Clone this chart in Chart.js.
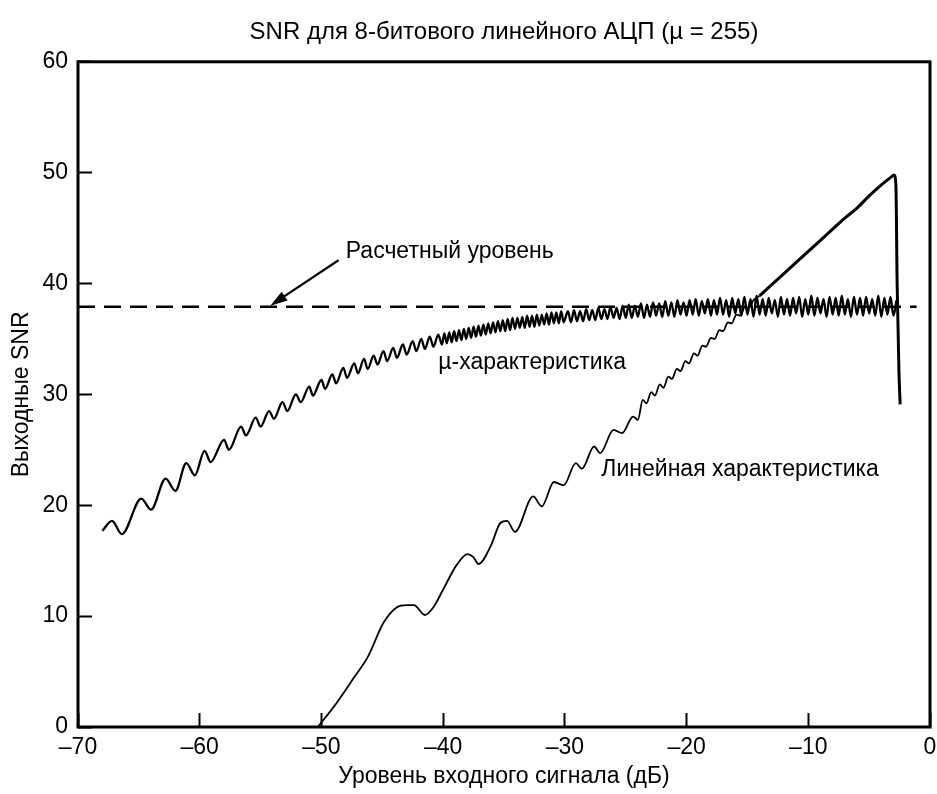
<!DOCTYPE html>
<html>
<head>
<meta charset="utf-8">
<title>SNR</title>
<script src="https://cdn.jsdelivr.net/npm/chart.js@4.4.1/dist/chart.umd.min.js"></script>
<style>
  body { margin: 0; background: #fff; }
  #wrap { width: 937px; height: 794px; }
</style>
</head>
<body>
<div id="wrap"><canvas id="snrChart" width="937" height="794"></canvas></div>
<script>
// оси
const xTicks = [-70, -60, -50, -40, -30, -20, -10, 0];
const yTicks = [0, 10, 20, 30, 40, 50, 60];

// расчетный уровень
const refX = [-70, -1.1];
const refY = [37.9, 37.9];

// mu-характеристика
const muX = [
  -68.0, -67.2, -66.4, -64.8, -64.0, -62.8, -62.0, -61.1, -60.4, -59.6, -59.1, -58.0, -57.6,
  -56.6, -56.2, -55.4, -55.0, -54.3, -53.9, -53.2, -52.8, -52.1, -51.7, -51.0, -50.7,
  -50.0, -49.7, -49.1, -48.8, -48.2, -47.9, -47.3, -47.0, -46.5, -46.2, -45.7, -45.4,
  -44.9, -44.6, -44.1, -43.8, -43.3, -43.0, -42.5, -42.2, -41.8, -41.5, -41.1, -40.8, -40.4, -40.1,
  -39.9, -39.7, -39.5, -39.3, -39.1, -38.9, -38.7, -38.5, -38.3, -38.1,
  -37.9, -37.7, -37.5, -37.3, -37.1, -36.9, -36.7, -36.5, -36.3, -36.1,
  -35.9, -35.7, -35.5, -35.3, -35.1, -34.9, -34.7, -34.5, -34.3, -34.1,
  -33.9, -33.7, -33.5, -33.3, -33.1, -32.9, -32.7, -32.5, -32.3, -32.1,
  -31.9, -31.7, -31.5, -31.3, -31.1, -30.9, -30.7, -30.5, -30.3, -30.1,
  -29.75, -29.5, -29.25, -29.0, -28.75, -28.5, -28.25, -28.0, -27.75, -27.5,
  -27.25, -27.0, -26.75, -26.5, -26.25, -26.0, -25.75, -25.5, -25.25, -25.0,
  -24.75, -24.5, -24.25, -24.0, -23.75, -23.5, -23.25, -23.0, -22.75, -22.5,
  -22.25, -22.0, -21.75, -21.5, -21.25, -21.0, -20.75, -20.5, -20.25, -20.0,
  -19.75, -19.5, -19.25, -19.0, -18.75, -18.5, -18.25, -18.0, -17.75, -17.5,
  -17.25, -17.0, -16.75, -16.5, -16.25, -16.0, -15.75, -15.5, -15.25, -15.0,
  -14.75, -14.5, -14.25, -14.0, -13.75, -13.5, -13.25, -13.0, -12.75, -12.5,
  -12.25, -12.0, -11.75, -11.5, -11.25, -11.0, -10.75, -10.5, -10.25, -10.0,
  -9.75, -9.5, -9.25, -9.0, -8.75, -8.5, -8.25, -8.0, -7.75, -7.5,
  -7.25, -7.0, -6.75, -6.5, -6.25, -6.0, -5.75, -5.5, -5.25, -5.0,
  -4.75, -4.5, -4.25, -4.0, -3.75, -3.5, -3.25, -3.0, -2.75
];
const muY = [
  17.7, 18.6, 17.4, 20.6, 19.6, 22.4, 21.3, 23.8, 22.7, 24.9, 23.9, 25.9, 25.0,
  27.1, 26.3, 27.9, 27.1, 28.5, 27.8, 29.3, 28.5, 30.0, 29.3, 30.7, 29.9,
  31.3, 30.5, 31.8, 31.0, 32.4, 31.5, 32.8, 31.9, 33.2, 32.3, 33.5, 32.7,
  33.9, 33.0, 34.2, 33.3, 34.5, 33.6, 34.8, 33.9, 35.0, 34.1, 35.2, 34.3, 35.4, 34.5,
  35.5, 34.6, 35.6, 34.7, 35.7, 34.8, 35.8, 34.9, 35.9, 35.0,
  36.0, 35.1, 36.1, 35.2, 36.2, 35.3, 36.3, 35.4, 36.4, 35.5,
  36.5, 35.6, 36.6, 35.7, 36.7, 35.7, 36.8, 35.8, 36.9, 35.9,
  36.9, 36.0, 37.0, 36.0, 37.1, 36.1, 37.1, 36.1, 37.2, 36.2,
  37.2, 36.3, 37.3, 36.3, 37.4, 36.4, 37.4, 36.4, 37.5, 36.5,
  37.5, 36.5, 37.6, 36.6, 37.5, 36.6, 37.7, 36.7, 37.6, 36.7,
  37.8, 36.8, 37.7, 36.8, 37.9, 36.9, 37.8, 36.8, 38.0, 36.9,
  38.1, 36.9, 38.0, 37.0, 38.2, 36.9, 38.1, 37.0, 38.3, 37.1,
  38.2, 37.0, 38.4, 37.1, 38.3, 37.0, 38.5, 37.2, 38.3, 37.1,
  38.5, 37.2, 38.6, 37.1, 38.4, 37.3, 38.6, 37.1, 38.5, 37.2,
  38.7, 37.2, 38.5, 37.0, 38.7, 37.3, 38.6, 37.1, 38.8, 37.2,
  38.6, 37.0, 38.9, 37.2, 38.6, 37.1, 38.7, 37.3, 38.5, 37.0,
  38.8, 37.2, 38.6, 37.1, 38.7, 37.3, 38.8, 37.0, 38.6, 37.2,
  38.9, 37.1, 38.7, 37.3, 38.6, 37.0, 38.8, 37.2, 38.7, 37.1,
  38.9, 37.2, 38.6, 37.0, 38.8, 37.2, 38.7, 37.1, 38.8, 37.3,
  38.6, 37.1, 38.9, 37.0, 38.7, 37.2, 38.8, 37.1, 38.5
];

// линейная характеристика
const linX = [
  -50.3, -49.0, -47.3, -46.2, -44.9, -43.8, -43.0, -42.4, -41.5, -40.8,
  -40.0, -38.9, -38.0, -37.5, -37.1, -36.1, -35.3, -34.75, -34.1, -32.6,
  -31.9, -30.9, -30.1, -29.1, -28.6, -27.6, -27.1, -26.0, -25.3, -24.4, -24.0,
  -23.6, -23.3, -22.9, -22.6, -22.2, -21.9, -21.5, -21.2, -20.8, -20.5,
  -20.1, -19.8, -19.4, -19.1, -18.7, -18.4, -18.0, -17.7, -17.3, -17.0,
  -16.6, -16.3, -15.9, -15.6, -15.2, -14.9, -14.5, -14.0,
  -13.0, -12.0, -11.0, -10.0, -9.0, -8.0, -7.0, -6.0, -5.0, -4.0,
  -3.2, -2.95, -2.8, -2.7, -2.55, -2.45
];
const linY = [
  0.0, 1.8, 4.5, 6.3, 9.4, 10.8, 11.0, 11.0, 10.1, 10.8,
  12.4, 14.6, 15.6, 15.3, 14.7, 16.3, 18.4, 18.6, 17.6, 20.8,
  19.9, 22.1, 21.8, 23.8, 23.3, 25.3, 24.7, 26.8, 26.5, 28.0, 27.7,
  29.5, 29.2, 30.2, 29.9, 30.9, 30.6, 31.6, 31.4, 32.3, 32.1,
  33.0, 32.8, 33.7, 33.5, 34.4, 34.3, 35.1, 35.0, 35.8, 35.7,
  36.5, 36.4, 37.2, 37.1, 37.9, 37.8, 38.5, 38.9,
  39.9, 40.9, 41.9, 42.9, 43.9, 44.9, 45.9, 46.8, 47.9, 48.9,
  49.6, 49.8, 48.8, 40.0, 32.0, 29.1
];

// подписи на графике
const notes = [
  { text: 'Расчетный уровень', x: -48.0, y: 42.9 },
  { text: 'µ-характеристика', x: -40.4, y: 32.9 },
  { text: 'Линейная характеристика', x: -27.0, y: 23.2 }
];
const arrow = { from: [-48.6, 42.1], to: [-54.2, 38.0] };

const FONT = "'Liberation Sans', Arial, sans-serif";
const pts = (xs, ys) => xs.map((x, i) => ({ x: x, y: ys[i] }));

const frameAndNotes = {
  id: 'frameAndNotes',
  afterDatasetsDraw(chart) {
    const { ctx, chartArea: a, scales: { x, y } } = chart;
    ctx.save();
    // подписи
    ctx.fillStyle = '#000';
    ctx.font = '23px ' + FONT;
    ctx.textAlign = 'left';
    ctx.textBaseline = 'middle';
    notes.forEach(n => ctx.fillText(n.text, x.getPixelForValue(n.x), y.getPixelForValue(n.y)));
    // стрелка
    const x1 = x.getPixelForValue(arrow.from[0]), y1 = y.getPixelForValue(arrow.from[1]);
    const x2 = x.getPixelForValue(arrow.to[0]), y2 = y.getPixelForValue(arrow.to[1]);
    const ang = Math.atan2(y2 - y1, x2 - x1);
    ctx.strokeStyle = '#000';
    ctx.lineWidth = 2.2;
    ctx.beginPath();
    ctx.moveTo(x1, y1);
    ctx.lineTo(x2 - 10 * Math.cos(ang), y2 - 10 * Math.sin(ang));
    ctx.stroke();
    ctx.beginPath();
    ctx.moveTo(x2, y2);
    ctx.lineTo(x2 - 18 * Math.cos(ang - 0.3), y2 - 18 * Math.sin(ang - 0.3));
    ctx.lineTo(x2 - 18 * Math.cos(ang + 0.3), y2 - 18 * Math.sin(ang + 0.3));
    ctx.closePath();
    ctx.fill();
    // рамка
    ctx.lineWidth = 3;
    ctx.strokeRect(a.left, a.top, a.right - a.left, a.bottom - a.top);
    ctx.restore();
  }
};

new Chart(document.getElementById('snrChart'), {
  type: 'line',
  data: {
    datasets: [
      {
        label: 'Расчетный уровень',
        data: pts(refX, refY),
        borderColor: '#000',
        borderWidth: 2.5,
        borderDash: [17, 9],
        pointRadius: 0
      },
      {
        label: 'µ-характеристика',
        data: pts(muX, muY),
        borderColor: '#000',
        borderWidth: 2.3,
        pointRadius: 0,
        cubicInterpolationMode: 'monotone'
      },
      {
        label: 'Линейная характеристика',
        data: pts(linX, linY),
        borderColor: '#000',
        borderWidth: 1.8,
        pointRadius: 0,
        cubicInterpolationMode: 'monotone',
        segment: {
          borderWidth: c => c.p0.parsed.x >= -14.1 ? 3 : 1.8
        }
      }
    ]
  },
  options: {
    responsive: false,
    animation: false,
    layout: { padding: { left: 0, right: 7, top: 0, bottom: 0 } },
    plugins: {
      legend: { display: false },
      tooltip: { enabled: false },
      title: {
        display: true,
        fullSize: false,
        text: 'SNR для 8-битового линейного АЦП (µ = 255)',
        color: '#000',
        font: { family: FONT, size: 24, weight: 'normal' },
        padding: { top: 18, bottom: 15 }
      }
    },
    scales: {
      x: {
        type: 'linear',
        min: -70,
        max: 0,
        afterBuildTicks: s => { s.ticks = xTicks.map(v => ({ value: v })); },
        afterFit: s => { s.height = 67; s.paddingRight = 0; },
        ticks: {
          color: '#000',
          font: { family: FONT, size: 23 },
          padding: 21,
          maxRotation: 0,
          callback: v => (v < 0 ? '–' + Math.abs(v) : String(v))
        },
        grid: { drawOnChartArea: false, tickLength: -14, tickColor: '#000', tickWidth: 2 },
        border: { display: false },
        title: {
          display: true,
          text: 'Уровень входного сигнала (дБ)',
          color: '#000',
          font: { family: FONT, size: 23 },
          padding: { top: 0, bottom: 4 }
        }
      },
      y: {
        min: 0,
        max: 60,
        afterBuildTicks: s => { s.ticks = yTicks.map(v => ({ value: v })); },
        afterFit: s => { s.width = 78; },
        ticks: {
          color: '#000',
          font: { family: FONT, size: 23 },
          padding: 24
        },
        grid: { drawOnChartArea: false, tickLength: -14, tickColor: '#000', tickWidth: 2 },
        border: { display: false },
        title: {
          display: true,
          text: 'Выходные SNR',
          color: '#000',
          font: { family: FONT, size: 23 },
          padding: { top: 8, bottom: 0 }
        }
      }
    }
  },
  plugins: [frameAndNotes]
});
</script>
</body>
</html>
